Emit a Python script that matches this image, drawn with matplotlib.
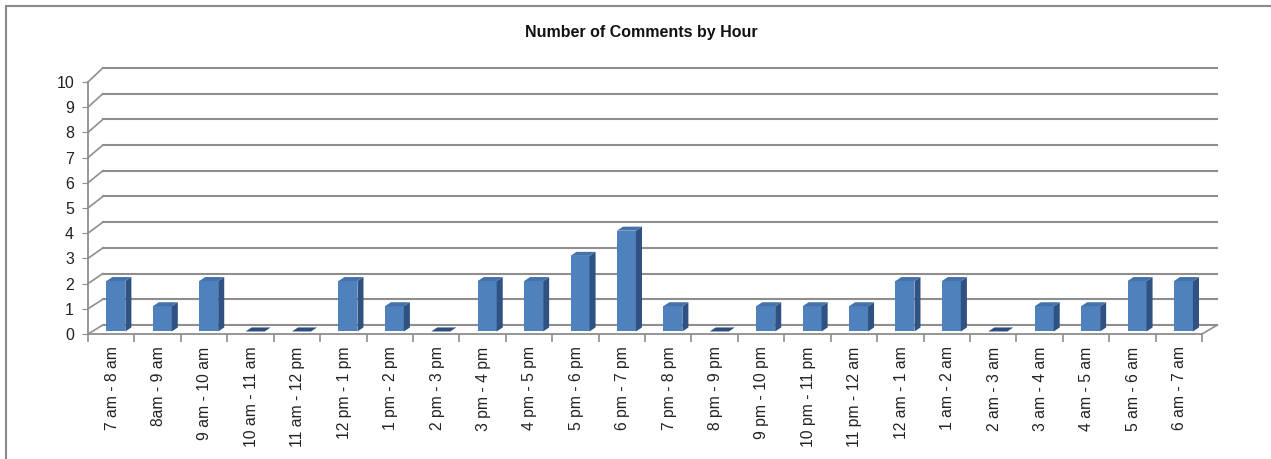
import matplotlib
matplotlib.use("Agg")
import matplotlib.pyplot as plt
import numpy as np
from matplotlib.patches import Polygon
from matplotlib.lines import Line2D

# data
hours = ["7 am - 8 am", "8am - 9 am", "9 am - 10 am", "10 am - 11 am", "11 am - 12 pm",
         "12 pm - 1 pm", "1 pm - 2 pm", "2 pm - 3 pm", "3 pm - 4 pm", "4 pm - 5 pm",
         "5 pm - 6 pm", "6 pm - 7 pm", "7 pm - 8 pm", "8 pm - 9 pm", "9 pm - 10 pm",
         "10 pm - 11 pm", "11 pm - 12 am", "12 am - 1 am", "1 am - 2 am", "2 am - 3 am",
         "3 am - 4 am", "4 am - 5 am", "5 am - 6 am", "6 am - 7 am"]
comments = [2, 1, 2, 0, 0, 2, 1, 0, 2, 2, 3, 4, 1, 0, 1, 1, 1, 2, 2, 0, 1, 1, 2, 2]
y_ticks = list(range(0, 11))

W, H = 1271, 459
fig = plt.figure(figsize=(W / 100, H / 100), dpi=100)
plt.rcParams['font.family'] = ['Liberation Sans', 'DejaVu Sans']

# front plane of the pseudo-3d chart
ax = fig.add_axes([88 / W, (H - 334) / H, (1202 - 88) / W, 252 / H])
n = len(hours)
ax.set_xlim(0, n)
ax.set_ylim(0, 10)

grid_col = '#8e8e8e'
# back wall (a little higher and to the right because of depth)
bx0, bx1 = 0.32, n + 0.33
by0, bk = 0.357, 1.02
for v in y_ticks:
    yb = by0 + v * bk
    ax.plot([bx0, bx1], [yb, yb], color=grid_col, lw=1.5, clip_on=False, zorder=1)
    ax.plot([0, bx0], [v, yb], color=grid_col, lw=1.2, clip_on=False, zorder=1)
# floor right edge
ax.plot([n, bx1], [0, by0], color=grid_col, lw=1.2, clip_on=False, zorder=1)

# bars: front face + side + top
x = np.arange(n) + 0.6
bw = 0.41
base = 0.1
dx, dy = 0.13, 0.16
front = '#4f81bd'
side = '#2f5283'
top = '#4572aa'
vals = np.array(comments, dtype=float)
ax.bar(x, vals, width=bw, bottom=base, color=front, zorder=3)
for xi, v in zip(x, vals):
    l, r = xi - bw / 2, xi + bw / 2
    t = base + v
    ax.add_patch(Polygon([[r, base], [r + dx, base + dy], [r + dx, t + dy], [r, t]],
                         closed=True, color=side, lw=0, zorder=3))
    ax.add_patch(Polygon([[l, t], [r, t], [r + dx, t + dy], [l + dx, t + dy]],
                         closed=True, color=top if v > 0 else '#2c4f80', lw=0, zorder=4))

for s in ['top', 'right']:
    ax.spines[s].set_visible(False)
for s in ['left', 'bottom']:
    ax.spines[s].set_color(grid_col)
    ax.spines[s].set_linewidth(1.3)

ax.set_yticks(y_ticks)
ax.set_yticklabels([str(v) for v in y_ticks], fontsize=11.5, color='#222222')
ax.tick_params(axis='y', length=4, color=grid_col, pad=6)

ax.set_xticks(np.arange(n + 1), minor=True)
ax.set_xticks(np.arange(n) + 0.52)
ax.set_xticklabels(hours, rotation=90, fontsize=11.3, color='#222222', va='top')
ax.tick_params(axis='x', which='major', length=0, pad=9)
ax.tick_params(axis='x', which='minor', length=6, color=grid_col, width=1.2)
ax.patch.set_visible(False)

fig.text(641 / W, 1 - 32 / H, "Number of Comments by Hour", ha='center', va='center',
         fontsize=11.5, fontweight='bold', color='#111111')

# chart area border (clipped by the picture at right and bottom)
fig.add_artist(Line2D([6 / W, 6 / W], [0, 1 - 6 / H], color='#8a8a8a', lw=1.5))
fig.add_artist(Line2D([6 / W, 1], [1 - 6 / H, 1 - 6 / H], color='#8a8a8a', lw=1.5))

fig.savefig("out.png", dpi=100)
